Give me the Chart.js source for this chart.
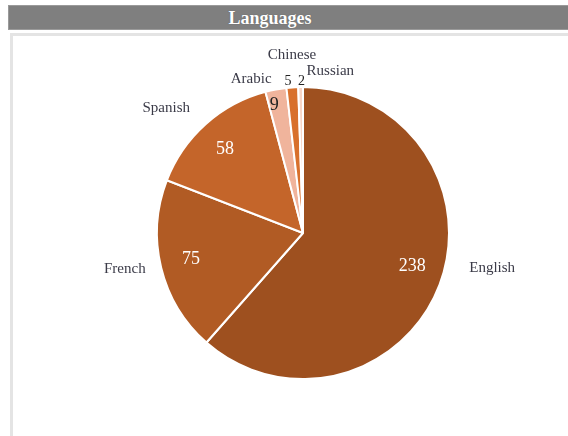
<!DOCTYPE html>
<html>
<head>
<meta charset="utf-8">
<script src="https://cdn.jsdelivr.net/npm/chart.js@4.4.0/dist/chart.umd.min.js"></script>
<style>
  html,body{margin:0;padding:0;background:#fff;width:568px;height:436px;overflow:hidden;}
  #titlebar{position:absolute;left:8px;top:5px;width:562px;height:25px;background:#7f7f7f;border:1px solid #9a9a9a;box-sizing:border-box;
    color:#fff;font:bold 18px "Liberation Serif","DejaVu Serif",serif;text-align:center;line-height:24px;text-shadow:0 0 1px #555;padding-right:38px;}
  #frame{position:absolute;left:10px;top:33px;width:570px;height:420px;border-left:3px solid #e4e4e4;border-top:3px solid #e4e4e4;box-sizing:border-box;}
  #wrap{position:absolute;left:0;top:0;width:568px;height:436px;}
</style>
</head>
<body>
<div id="titlebar">Languages</div>
<div id="frame"></div>
<div id="wrap"><canvas id="c" width="568" height="436"></canvas></div>
<script>
const categories = ["English", "French", "Spanish", "Arabic", "Chinese", "Russian"];
const values = [238, 75, 58, 9, 5, 2];
const sliceColors = ["#9e501f", "#b15b24", "#c4652a", "#f0b49c", "#d8702c", "#f8d6c6"];
const valueColors = ["#ffffff", "#ffffff", "#ffffff", "#222222", "#222222", "#222222"];

const labelPlugin = {
  id: 'sliceLabels',
  afterDatasetsDraw(chart, args, opts) {
    const ctx = chart.ctx;
    const meta = chart.getDatasetMeta(0);
    meta.data.forEach((arc, i) => {
      const p = arc.getProps(['x','y','startAngle','endAngle','outerRadius'], true);
      const mid = (p.startAngle + p.endAngle) / 2;
      const r = p.outerRadius;
      const vf = opts.valueRadius[i];
      const vx = p.x + Math.cos(mid) * r * vf;
      const vy = p.y + Math.sin(mid) * r * vf;
      ctx.save();
      ctx.font = opts.valueFont[i] + 'px "Liberation Serif", "DejaVu Serif", serif';
      ctx.fillStyle = valueColors[i];
      ctx.textAlign = 'center';
      ctx.textBaseline = 'middle';
      ctx.fillText(String(values[i]), vx + opts.valueNudge[i][0], vy + opts.valueNudge[i][1]);
      const lf = opts.labelRadius[i];
      const lx = p.x + Math.cos(mid) * r * lf + opts.labelNudge[i][0];
      const ly = p.y + Math.sin(mid) * r * lf + opts.labelNudge[i][1];
      ctx.font = '15px "Liberation Serif", "DejaVu Serif", serif';
      ctx.fillStyle = '#3b3b48';
      ctx.fillText(categories[i], lx, ly);
      ctx.restore();
    });
  }
};

new Chart(document.getElementById('c'), {
  type: 'pie',
  data: {
    labels: categories,
    datasets: [{
      data: values,
      backgroundColor: sliceColors,
      borderColor: '#ffffff',
      borderWidth: 2
    }]
  },
  options: {
    responsive: false,
    animation: false,
    layout: { padding: { left: 156, right: 118, top: 86, bottom: 56 } },
    plugins: {
      legend: { display: false },
      tooltip: { enabled: false },
      sliceLabels: {
        valueFont: [18, 18, 18, 18, 14, 14],
        valueRadius: [0.77, 0.79, 0.79, 0.88, 1.04, 1.04],
        valueNudge: [[4,-6],[0,-1],[-1,2],[-5,-1],[-4,0],[1,0]],
        labelRadius: [1.29, 1.2, 1.25, 1.1, 1.22, 1.12],
        labelNudge: [[13,-32],[-8,-5],[-15,11],[-22,4],[2,0],[30,2]]
      }
    }
  },
  plugins: [labelPlugin]
});
</script>
</body>
</html>
